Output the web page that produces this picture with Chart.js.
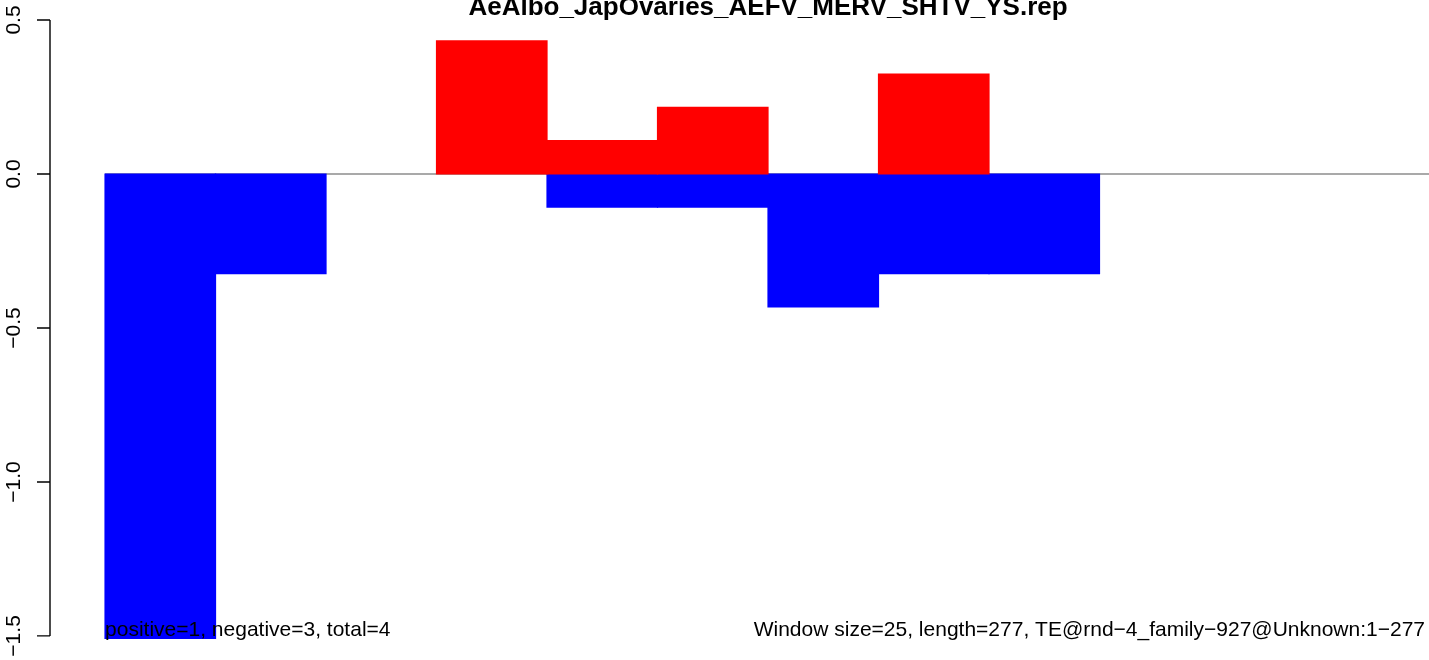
<!DOCTYPE html>
<html>
<head>
<meta charset="utf-8">
<script src="https://cdn.jsdelivr.net/npm/chart.js@4.4.1/dist/chart.umd.min.js"></script>
<style>
  html, body { margin: 0; padding: 0; background: #fff; overflow: hidden; }
  #wrap { width: 1429px; height: 660px; }
</style>
</head>
<body>
<div id="wrap"><canvas id="c" width="1429" height="660"></canvas></div>
<script>
// ===== DATA =====
const chartTitle = 'AeAlbo_JapOvaries_AEFV_MERV_SHTV_YS.rep';
const windowIdx = [1, 2, 3, 4, 5, 6, 7, 8, 9, 10, 11, 12];
const positive  = [0, 0, 0, 0.432, 0.108, 0.216, 0, 0.324, 0, 0, 0, 0];
const negative  = [-1.51, -0.324, 0, 0, -0.108, -0.108, -0.432, -0.324, -0.324, 0, 0, 0];
const yTicks      = [0.5, 0, -0.5, -1, -1.5];
const yTickLabels = ['0.5', '0.0', '\u22120.5', '\u22121.0', '\u22121.5'];
const noteLeft  = 'positive=1, negative=3, total=4';
const noteRight = 'Window size=25, length=277, TE@rnd\u22124_family\u2212927@Unknown:1\u2212277';

const FONT = '"Liberation Sans", Arial, Helvetica, sans-serif';

// bar nol tidak digambar (hindari garis tipis)
const toPoints = vals => windowIdx.map((w, i) => ({ x: w - 0.5, y: vals[i] === 0 ? null : vals[i] }));

// ===== R-STYLE DECORATIONS =====
const rStyle = {
  id: 'rStyle',
  beforeDatasetsDraw(chart) {
    const { ctx, chartArea, scales: { x, y } } = chart;
    const y0 = y.getPixelForValue(0);
    ctx.save();
    ctx.strokeStyle = '#a9a9a9';
    ctx.lineWidth = 2;
    ctx.beginPath();
    ctx.moveTo(x.getPixelForValue(0), y0);
    ctx.lineTo(chartArea.right, y0);
    ctx.stroke();
    ctx.restore();
  },
  afterDraw(chart) {
    const { ctx, chartArea, scales: { x, y } } = chart;
    const ax = chartArea.left;
    ctx.save();

    // axis kiri
    ctx.strokeStyle = '#000';
    ctx.lineWidth = 1.4;
    ctx.beginPath();
    ctx.moveTo(ax, y.getPixelForValue(yTicks[0]));
    ctx.lineTo(ax, y.getPixelForValue(yTicks[yTicks.length - 1]));
    yTicks.forEach(v => {
      const py = y.getPixelForValue(v);
      ctx.moveTo(ax - 13, py);
      ctx.lineTo(ax, py);
    });
    ctx.stroke();

    // label tick (diputar)
    ctx.fillStyle = '#000';
    ctx.font = '21px ' + FONT;
    ctx.textAlign = 'center';
    ctx.textBaseline = 'alphabetic';
    yTicks.forEach((v, i) => {
      ctx.save();
      ctx.translate(20, y.getPixelForValue(v));
      ctx.rotate(-Math.PI / 2);
      ctx.fillText(yTickLabels[i], 0, 0);
      ctx.restore();
    });

    // judul
    ctx.font = 'bold 26px ' + FONT;
    ctx.textAlign = 'center';
    const midX = (x.getPixelForValue(0) + x.getPixelForValue(windowIdx.length)) / 2;
    ctx.fillText(chartTitle, midX, 15);

    // catatan bawah
    ctx.font = '21px ' + FONT;
    ctx.textAlign = 'left';
    ctx.fillText(noteLeft, x.getPixelForValue(0), 636);
    ctx.textAlign = 'right';
    ctx.fillText(noteRight, 1425, 636);

    ctx.restore();
  }
};

new Chart(document.getElementById('c'), {
  type: 'bar',
  data: {
    datasets: [
      {
        label: 'positive',
        data: toPoints(positive),
        backgroundColor: '#ff0000',
        borderWidth: 0,
        inflateAmount: 0.6,
        grouped: false,
        barPercentage: 1,
        categoryPercentage: 1
      },
      {
        label: 'negative',
        data: toPoints(negative),
        backgroundColor: '#0000ff',
        borderWidth: 0,
        inflateAmount: 0.6,
        grouped: false,
        barPercentage: 1,
        categoryPercentage: 1
      }
    ]
  },
  options: {
    responsive: false,
    animation: false,
    layout: { padding: { left: 50, top: 20, right: 0, bottom: 21 } },
    plugins: { legend: { display: false }, tooltip: { enabled: false } },
    scales: {
      x: { type: 'linear', min: -0.498, max: 11.982, offset: false, display: false },
      y: { min: -1.51, max: 0.5, display: false }
    }
  },
  plugins: [rStyle]
});
</script>
</body>
</html>
